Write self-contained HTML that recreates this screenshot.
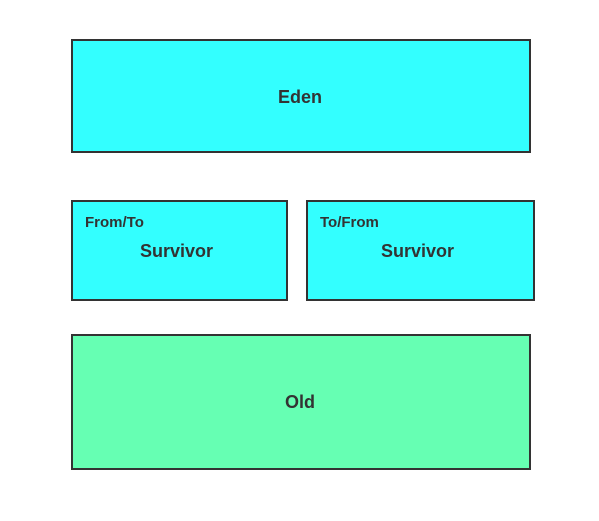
<!DOCTYPE html>
<html><head><style>
body{margin:0;width:599px;height:521px;background:#fff;position:relative;font-family:"Liberation Sans",sans-serif;font-weight:bold;color:#333}
.b{position:absolute;border:2px solid #333;box-sizing:border-box;background:#33ffff}
.t{position:absolute;white-space:nowrap}
</style></head><body>
<div class="b" style="left:71px;top:39px;width:460px;height:114px"></div>
<div class="t" style="left:278px;top:87px;font-size:18px">Eden</div>
<div class="b" style="left:71px;top:200px;width:217px;height:101px"></div>
<div class="t" style="left:85px;top:214px;font-size:15px">From/To</div>
<div class="t" style="left:140px;top:241px;font-size:18px">Survivor</div>
<div class="b" style="left:306px;top:200px;width:229px;height:101px"></div>
<div class="t" style="left:320px;top:214px;font-size:15px">To/From</div>
<div class="t" style="left:381px;top:241px;font-size:18px">Survivor</div>
<div class="b" style="left:71px;top:334px;width:460px;height:136px;background:#66ffb3"></div>
<div class="t" style="left:285px;top:392px;font-size:18px">Old</div>
</body></html>
